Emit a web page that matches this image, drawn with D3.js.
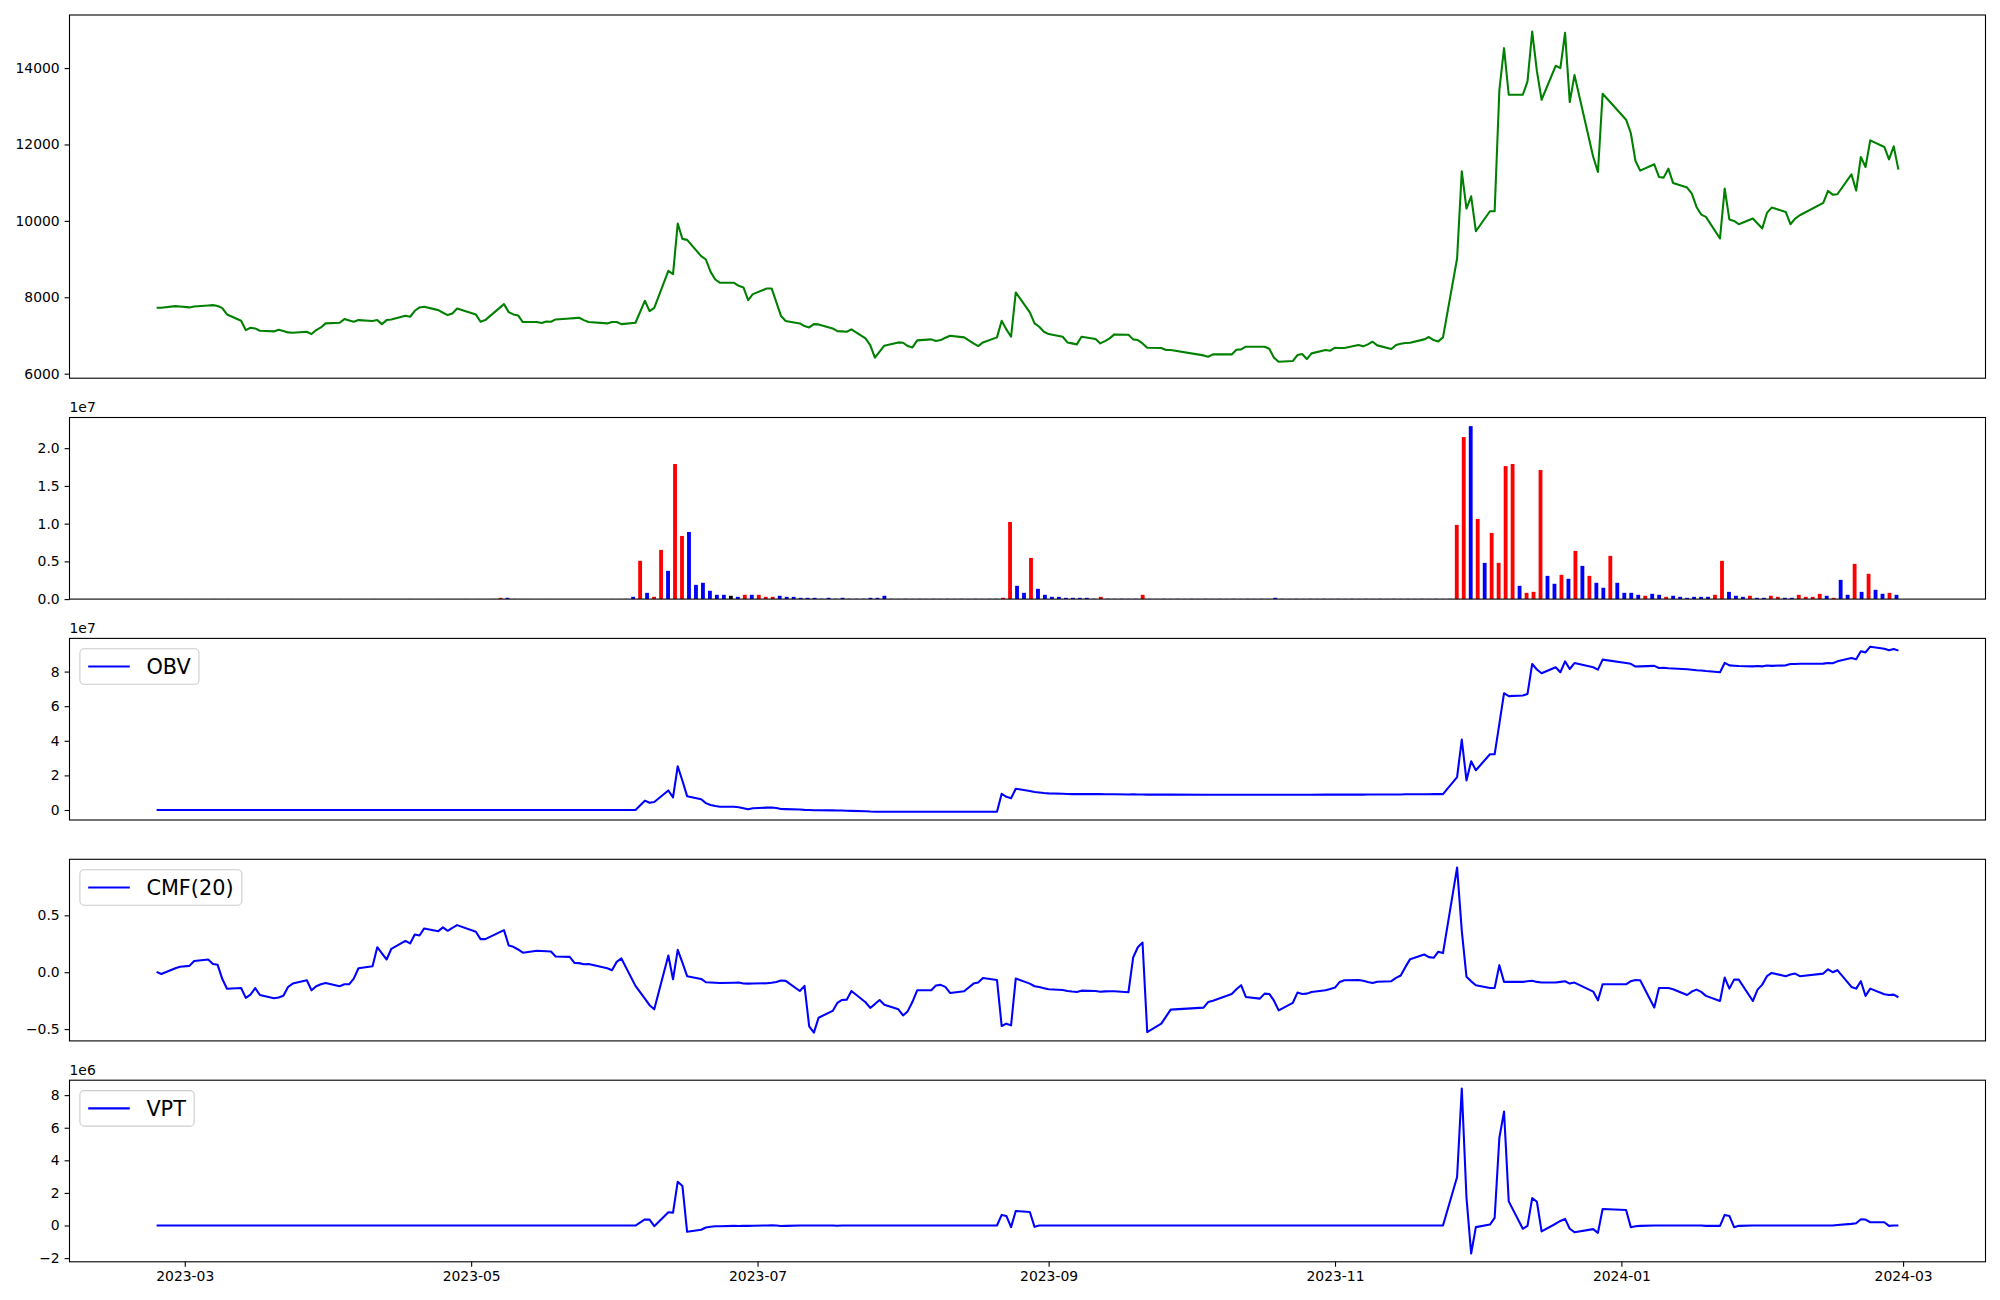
<!DOCTYPE html>
<html><head><meta charset="utf-8">
<script src="https://cdn.jsdelivr.net/npm/d3@7"></script>
<style>
body{margin:0;background:#fff}
svg{display:block}
text{font-family:"DejaVu Sans",sans-serif}
</style></head>
<body><svg id="chart" width="2000" height="1300"></svg>
<script>
// ---------------- DATA ----------------
const tradingDays = [
"2023-02-23","2023-02-24","2023-02-27","2023-02-28",
"2023-03-02","2023-03-03","2023-03-06","2023-03-07","2023-03-08","2023-03-09","2023-03-10","2023-03-13","2023-03-14","2023-03-15","2023-03-16","2023-03-17","2023-03-20","2023-03-21","2023-03-22","2023-03-23","2023-03-24","2023-03-27","2023-03-28","2023-03-29","2023-03-30","2023-03-31",
"2023-04-03","2023-04-04","2023-04-05","2023-04-06","2023-04-07","2023-04-10","2023-04-11","2023-04-12","2023-04-13","2023-04-14","2023-04-17","2023-04-18","2023-04-19","2023-04-20","2023-04-21","2023-04-24","2023-04-25","2023-04-26","2023-04-27","2023-04-28",
"2023-05-02","2023-05-03","2023-05-04","2023-05-08","2023-05-09","2023-05-10","2023-05-11","2023-05-12","2023-05-15","2023-05-16","2023-05-17","2023-05-18","2023-05-19","2023-05-22","2023-05-23","2023-05-24","2023-05-25","2023-05-26","2023-05-30","2023-05-31",
"2023-06-01","2023-06-02","2023-06-05","2023-06-07","2023-06-08","2023-06-09","2023-06-12","2023-06-13","2023-06-14","2023-06-15","2023-06-16","2023-06-19","2023-06-20","2023-06-21","2023-06-22","2023-06-23","2023-06-26","2023-06-27","2023-06-28","2023-06-29","2023-06-30",
"2023-07-03","2023-07-04","2023-07-05","2023-07-06","2023-07-07","2023-07-10","2023-07-11","2023-07-12","2023-07-13","2023-07-14","2023-07-17","2023-07-18","2023-07-19","2023-07-20","2023-07-21","2023-07-24","2023-07-25","2023-07-26","2023-07-27","2023-07-28","2023-07-31",
"2023-08-01","2023-08-02","2023-08-03","2023-08-04","2023-08-07","2023-08-08","2023-08-09","2023-08-10","2023-08-11","2023-08-14","2023-08-16","2023-08-17","2023-08-18","2023-08-21","2023-08-22","2023-08-23","2023-08-24","2023-08-25","2023-08-28","2023-08-29","2023-08-30","2023-08-31",
"2023-09-01","2023-09-04","2023-09-05","2023-09-06","2023-09-07","2023-09-08","2023-09-11","2023-09-12","2023-09-13","2023-09-14","2023-09-15","2023-09-18","2023-09-19","2023-09-20","2023-09-21","2023-09-22","2023-09-25","2023-09-26","2023-09-27",
"2023-10-04","2023-10-05","2023-10-06","2023-10-10","2023-10-11","2023-10-12","2023-10-13","2023-10-16","2023-10-17","2023-10-18","2023-10-19","2023-10-20","2023-10-23","2023-10-24","2023-10-25","2023-10-26","2023-10-27","2023-10-30","2023-10-31",
"2023-11-01","2023-11-02","2023-11-03","2023-11-06","2023-11-07","2023-11-08","2023-11-09","2023-11-10","2023-11-13","2023-11-14","2023-11-15","2023-11-16","2023-11-17","2023-11-20","2023-11-21","2023-11-22","2023-11-23","2023-11-24","2023-11-27","2023-11-28","2023-11-29","2023-11-30",
"2023-12-01","2023-12-04","2023-12-05","2023-12-06","2023-12-07","2023-12-08","2023-12-11","2023-12-12","2023-12-13","2023-12-14","2023-12-15","2023-12-18","2023-12-19","2023-12-20","2023-12-21","2023-12-22","2023-12-26","2023-12-27","2023-12-28",
"2024-01-02","2024-01-03","2024-01-04","2024-01-05","2024-01-08","2024-01-09","2024-01-10","2024-01-11","2024-01-12","2024-01-15","2024-01-16","2024-01-17","2024-01-18","2024-01-19","2024-01-22","2024-01-23","2024-01-24","2024-01-25","2024-01-26","2024-01-29","2024-01-30","2024-01-31",
"2024-02-01","2024-02-02","2024-02-05","2024-02-06","2024-02-07","2024-02-08","2024-02-13","2024-02-14","2024-02-15","2024-02-16","2024-02-19","2024-02-20","2024-02-21","2024-02-22","2024-02-23","2024-02-26","2024-02-27","2024-02-28","2024-02-29"
];

const closePrice = [
7725,7725,7769,7760,7735,7760,7787,7795,7770,7717,
7551,7386,7142,7203,7185,7124,7107,7150,7115,7081,
7072,7098,7037,7142,7211,7316,7333,7429,7394,7359,
7403,7377,7403,7298,7403,7420,7516,7490,7647,7734,
7752,7664,7595,7534,7577,7708,7551,7359,7403,7821,
7612,7551,7525,7351,7351,7325,7368,7359,7420,7446,
7455,7464,7403,7351,7316,7351,7351,7298,7333,7908,
7638,7725,8692,8605,9930,9529,9503,9076,8989,8666,
8466,8379,8379,8300,8257,7926,8083,8231,8231,7874,
7508,7377,7316,7246,7211,7298,7290,7185,7115,7107,
7098,7159,6924,6750,6419,6575,6732,6819,6810,6723,
6688,6871,6898,6854,6880,6941,6993,6950,6793,6723,
6819,6950,7386,7159,6967,8126,7603,7316,7229,7098,
7037,6967,6819,6793,6767,6967,6906,6793,6854,6924,
7028,7019,6898,6880,6793,6680,6671,6619,6619,6479,
6444,6505,6505,6627,6636,6706,6706,6706,6654,6419,
6314,6331,6488,6514,6383,6532,6619,6601,6680,6671,
6671,6750,6715,6767,6837,6741,6645,6750,6784,6802,
6810,6898,6959,6880,6845,6950,9015,11298,10322,10644,
9729,10252,10252,13415,14521,13302,13302,13650,14957,13920,
13171,14060,13999,14922,13110,13816,11672,11280,13328,12648,
12300,11568,11315,11481,11150,11132,11367,10993,10871,10714,
10365,10165,10104,9538,10845,10034,9999,9912,10060,9930,
9799,10208,10348,10235,9912,10060,10148,10470,10784,10688,
10697,11219,10793,11672,11411,12108,11934,11611,11951,11341
];

// volume, in units of 1e7 shares (bars drawn by trading-day index)
const volume1e7 = [
0.001,0.002,0.001,0.001,0.002,0.001,0.001,0.001,0.002,0.001,
0.002,0.001,0.001,0.001,0.002,0.001,0.001,0.001,0.001,0.002,
0.001,0.001,0.002,0.001,0.001,0.001,0.002,0.001,0.001,0.001,
0.001,0.002,0.001,0.001,0.001,0.001,0.002,0.001,0.001,0.001,
0.002,0.001,0.001,0.001,0.002,0.001,0.002,0.001,0.003,0.017,
0.017,0.003,0.002,0.002,0.001,0.001,0.002,0.001,0.001,0.001,
0.001,0.002,0.001,0.001,0.001,0.002,0.002,0.003,0.030,0.507,
0.083,0.030,0.652,0.374,1.790,0.837,0.890,0.189,0.216,0.110,
0.057,0.057,0.044,0.030,0.057,0.057,0.057,0.030,0.030,0.044,
0.030,0.030,0.017,0.017,0.017,0.005,0.017,0.005,0.017,0.005,
0.005,0.005,0.017,0.017,0.044,0.004,0.003,0.004,0.003,0.004,
0.003,0.004,0.003,0.004,0.003,0.004,0.003,0.004,0.003,0.004,
0.004,0.017,1.022,0.176,0.083,0.546,0.136,0.057,0.030,0.030,
0.017,0.017,0.017,0.017,0.005,0.030,0.005,0.004,0.005,0.004,
0.005,0.057,0.004,0.003,0.004,0.003,0.004,0.003,0.004,0.003,
0.004,0.003,0.004,0.003,0.004,0.003,0.004,0.003,0.004,0.003,
0.017,0.004,0.003,0.004,0.003,0.004,0.003,0.004,0.003,0.004,
0.003,0.004,0.003,0.004,0.003,0.004,0.003,0.004,0.003,0.004,
0.003,0.004,0.003,0.004,0.003,0.004,0.983,2.147,2.292,1.062,
0.480,0.877,0.480,1.763,1.790,0.176,0.083,0.096,1.710,0.308,
0.203,0.321,0.269,0.639,0.440,0.308,0.216,0.150,0.573,0.216,
0.083,0.083,0.057,0.044,0.070,0.057,0.030,0.044,0.030,0.017,
0.030,0.030,0.030,0.057,0.507,0.096,0.044,0.030,0.044,0.017,
0.017,0.044,0.030,0.017,0.017,0.057,0.030,0.030,0.070,0.044,
0.017,0.255,0.057,0.467,0.096,0.335,0.123,0.070,0.083,0.057
];
// bar colour codes per day: r = red, b = blue, k = black
const volumeColorCodes = (
"bbbbbbbbbb bbbbbbbbbb bbbbbbbbbb bbbbbbbbbb bbbbbbbbbr " +
"bbbbbbbbbb bbbbbbbbbr brrbrrbbbb bbkbrbrrrb bbbbbbbbbb " +
"bbbbbbbbbb bbbbbbbbbb brrbbrbbbb bbbbbrbbbb brbbbbbbbb " +
"bbbbbbbbbb bbbbbbbbbb bbbbbbbbbb bbbbbbrrbr brrrrbrrrb " +
"brbrbrbbrb bbbrbbrbbb bbbrrbbbrb brrbbrrrrb rbbrbrbbrb").replace(/ /g, "");

// OBV in units of 1e7
const obv1e7 = [
0,0,0,0,0,0,0,0,0,0,
0,0,0,0,0,0,0,0,0,0,
0,0,0,0,0,0,0,0,0,0,
0,0,0,0,0,0,0,0,0,0,
0,0,0,0,0,0,0,0,0,0,
0,0,0,0,0,0,0,0,0,0,
0,0,0,0,0,0,0,0,0.00,0.54,
0.42,0.46,1.13,0.73,2.53,1.69,0.80,0.62,0.40,0.29,
0.23,0.19,0.19,0.16,0.10,0.04,0.10,0.14,0.15,0.12,
0.06,0.05,0.03,0.01,0.00,-0.01,-0.01,-0.02,-0.03,-0.03,
-0.04,-0.05,-0.07,-0.09,-0.10,-0.10,-0.10,-0.10,-0.10,-0.10,
-0.10,-0.10,-0.10,-0.10,-0.10,-0.10,-0.10,-0.10,-0.10,-0.10,
-0.10,-0.10,0.94,0.76,0.68,1.23,1.10,1.04,1.01,0.98,
0.96,0.94,0.93,0.92,0.92,0.93,0.92,0.92,0.91,0.91,
0.91,0.90,0.91,0.90,0.90,0.89,0.89,0.89,0.89,0.88,
0.88,0.88,0.88,0.88,0.88,0.88,0.88,0.88,0.88,0.88,
0.88,0.88,0.88,0.88,0.88,0.88,0.89,0.89,0.89,0.89,
0.89,0.89,0.89,0.90,0.90,0.90,0.90,0.90,0.90,0.91,
0.91,0.91,0.91,0.92,0.92,0.92,1.90,4.07,1.71,2.82,
2.30,3.22,3.22,4.98,6.75,6.58,6.62,6.71,8.44,8.12,
7.90,8.25,7.96,8.59,8.15,8.49,8.25,8.11,8.69,8.50,
8.45,8.29,8.30,8.33,8.21,8.22,8.19,8.18,8.13,8.11,
8.08,8.06,8.03,7.96,8.50,8.36,8.34,8.32,8.30,8.32,
8.30,8.35,8.33,8.36,8.44,8.44,8.45,8.46,8.50,8.48,
8.59,8.79,8.71,9.17,9.11,9.44,9.32,9.23,9.30,9.21
];

const cmf20 = [
0.003,-0.015,0.035,0.048,0.056,0.098,0.112,0.072,0.065,-0.06,
-0.145,-0.138,-0.225,-0.196,-0.14,-0.2,-0.229,-0.222,-0.207,-0.13,
-0.10,-0.07,-0.159,-0.123,-0.105,-0.095,-0.123,-0.106,-0.106,-0.056,
0.035,0.053,0.22,0.165,0.112,0.206,0.276,0.253,0.332,0.323,
0.385,0.361,0.394,0.364,0.39,0.414,0.356,0.291,0.291,0.37,
0.235,0.223,0.20,0.172,0.188,0.186,0.184,0.182,0.138,0.135,
0.082,0.080,0.070,0.073,0.035,0.018,0.091,0.121,-0.12,-0.232,
-0.29,-0.326,0.147,-0.062,0.197,0.085,-0.035,-0.059,-0.088,-0.09,
-0.092,-0.094,-0.092,-0.091,-0.099,-0.100,-0.099,-0.097,-0.093,-0.085,
-0.073,-0.076,-0.165,-0.12,-0.475,-0.531,-0.40,-0.34,-0.27,-0.244,
-0.241,-0.165,-0.264,-0.314,-0.28,-0.244,-0.285,-0.326,-0.38,-0.342,
-0.26,-0.159,-0.159,-0.117,-0.111,-0.129,-0.182,-0.167,-0.10,-0.091,
-0.050,-0.068,-0.473,-0.452,-0.467,-0.056,-0.100,-0.123,-0.13,-0.14,
-0.150,-0.156,-0.165,-0.17,-0.173,-0.162,-0.165,-0.171,-0.168,-0.167,
-0.167,-0.176,0.129,0.22,0.261,-0.526,-0.452,-0.39,-0.329,-0.311,
-0.261,-0.25,-0.191,-0.15,-0.114,-0.217,-0.232,-0.188,-0.191,-0.25,
-0.335,-0.270,-0.179,-0.191,-0.188,-0.173,-0.159,-0.147,-0.135,-0.085,
-0.07,-0.069,-0.075,-0.085,-0.094,-0.083,-0.079,-0.05,-0.029,0.047,
0.115,0.156,0.133,0.127,0.180,0.168,0.92,0.366,-0.04,-0.08,
-0.115,-0.138,-0.138,0.062,-0.085,-0.085,-0.085,-0.08,-0.075,-0.085,
-0.091,-0.091,-0.085,-0.079,-0.100,-0.091,-0.170,-0.247,-0.106,-0.106,
-0.079,-0.068,-0.07,-0.31,-0.138,-0.138,-0.138,-0.15,-0.200,-0.17,
-0.153,-0.173,-0.208,-0.253,-0.047,-0.144,-0.065,-0.065,-0.253,-0.153,
-0.109,-0.035,-0.006,-0.035,-0.02,-0.012,-0.035,-0.012,0.026,0.000,
0.018,-0.129,-0.144,-0.079,-0.208,-0.144,-0.194,-0.200,-0.197,-0.220
];

// VPT in units of 1e6
const vpt1e6 = [
0,0,0,0,0,0,0,0,0,0,
0,0,0,0,0,0,0,0,0,0,
0,0,0,0,0,0,0,0,0,0,
0,0,0,0,0,0,0,0,0,0,
0,0,0,0,0,0,0,0,0,0,
0,0,0,0,0,0,0,0,0,0,
0,0,0,0,0,0,0,0,0.0,0.37,
0.36,-0.04,0.81,0.79,2.69,2.43,-0.385,-0.26,-0.12,-0.08,
-0.05,-0.04,-0.02,-0.03,-0.01,-0.02,-0.01,0.0,0.01,0.0,
-0.03,-0.02,0,0,0,0,0,0,-0.01,0,
0,0,0,0,0,0,0,0,0,0,
0,0,0,0,0,0,0,0,0,0,
0,0.0,0.65,0.59,-0.10,0.89,0.83,-0.08,0.0,0,
0,0,0,0,0,0,0,0,0,0,
0,0,0,0,0,0,0,0,0,0,
0,0,0,0,0,0,0,0,0,0,
0,0,0,0,0,0,0,0,0,0,
0,0,0,0,0,0,0,0,0,0,
0,0,0,0,0,0,2.98,8.41,1.72,-1.72,
-0.10,0.06,0.47,5.37,6.99,1.48,-0.20,-0.02,1.68,1.46,
-0.36,0.11,0.28,0.41,-0.20,-0.41,-0.22,-0.45,1.01,0.95,
-0.10,-0.04,-0.02,0,0,0,0,0,0,0,
0,0,-0.02,-0.02,0.65,0.59,-0.10,-0.02,0,0,
0,0,0,0,0,0,0,0,0,0,
0.03,0.10,0.14,0.385,0.365,0.20,0.20,-0.02,0,0
];

// tick values and labels
const priceTicks = [6000, 8000, 10000, 12000, 14000];
const priceTickLabels = ["6000", "8000", "10000", "12000", "14000"];
const volTicks = [0, 0.5, 1.0, 1.5, 2.0];
const volTickLabels = ["0.0", "0.5", "1.0", "1.5", "2.0"];
const obvTicks = [0, 2, 4, 6, 8];
const obvTickLabels = ["0", "2", "4", "6", "8"];
const cmfTicks = [-0.5, 0, 0.5];
const cmfTickLabels = ["\u22120.5", "0.0", "0.5"];
const vptTicks = [-2, 0, 2, 4, 6, 8];
const vptTickLabels = ["\u22122", "0", "2", "4", "6", "8"];
const xTickDates = ["2023-03-01", "2023-05-01", "2023-07-01", "2023-09-01", "2023-11-01", "2024-01-01", "2024-03-01"];
const xTickLabels = ["2023-03", "2023-05", "2023-07", "2023-09", "2023-11", "2024-01", "2024-03"];

// ---------------- LAYOUT ----------------
const svg = d3.select("#chart");
const L = 69.5, R = 1985.5;
const FS = 13.9;            // 10pt
const TICK = 4.9, PAD = 4.9;
const H1 = 363.2, H = 181.6, GAP = 39.3, TOP = 15;
const panels = [];
let yy = TOP;
[H1, H, H, H, H].forEach(h => { panels.push({ top: yy, bottom: yy + h }); yy += h + GAP; });

const parse = d3.utcParse("%Y-%m-%d");
const D = tradingDays.map(parse);
const N = D.length;
const t0 = +D[0], t1 = +D[N - 1], span = t1 - t0;
const xDate = d3.scaleUtc().domain([new Date(t0 - 0.05 * span), new Date(t1 + 0.05 * span)]).range([L, R]);

const BW = 0.55;
const iSpan = (N - 1) + BW;
const xIdx = d3.scaleLinear().domain([-BW / 2 - 0.05 * iSpan, (N - 1) + BW / 2 + 0.05 * iSpan]).range([L, R]);

function padExtent(arr) {
  const [mn, mx] = d3.extent(arr);
  const p = (mx - mn) * 0.05;
  return [mn - p, mx + p];
}

const defs = svg.append("defs");
panels.forEach((p, k) => {
  defs.append("clipPath").attr("id", "clip" + k)
    .append("rect").attr("x", L).attr("y", p.top).attr("width", R - L).attr("height", p.bottom - p.top);
});

function yAxis(p, y, ticks, labels) {
  const g = svg.append("g").attr("transform", `translate(${L},0)`);
  g.call(d3.axisLeft(y).tickValues(ticks).tickSize(TICK).tickPadding(PAD)
    .tickFormat((d, i) => labels[i]));
  g.select(".domain").remove();
  g.selectAll(".tick line").attr("stroke", "#000").attr("stroke-width", 1.1);
  g.selectAll(".tick text").attr("font-size", FS).attr("fill", "#000")
    .attr("font-family", "DejaVu Sans");
}
function frame(p) {
  svg.append("rect").attr("x", L).attr("y", p.top).attr("width", R - L).attr("height", p.bottom - p.top)
    .attr("fill", "none").attr("stroke", "#000").attr("stroke-width", 1.1);
}
function offsetText(p, txt) {
  svg.append("text").attr("x", L).attr("y", p.top - 5.5).attr("font-size", FS).attr("fill", "#000").text(txt);
}
function linePlot(k, y, vals, color, lw) {
  const line = d3.line().x((d, i) => xDate(D[i])).y(d => y(d));
  svg.append("path").attr("clip-path", `url(#clip${k})`).datum(vals)
    .attr("d", line).attr("fill", "none").attr("stroke", color)
    .attr("stroke-width", lw).attr("stroke-linejoin", "round").attr("stroke-linecap", "butt");
}
function legend(p, label, color, lw) {
  const fs = 20.8;
  const bx = L + 10.4, by = p.top + 10.4;
  const g = svg.append("g");
  const box = g.append("rect");
  const t = g.append("text").attr("font-size", fs).attr("fill", "#000").text(label);
  const tw = t.node().getComputedTextLength();
  const bh = 35.5;
  const bw = 8.3 + 41.6 + 16.6 + tw + 8.3;
  box.attr("x", bx).attr("y", by).attr("width", bw).attr("height", bh).attr("rx", 4.2)
    .attr("fill", "#fff").attr("fill-opacity", 0.8).attr("stroke", "#cccccc").attr("stroke-width", 1.1);
  const cy = by + bh / 2;
  t.attr("x", bx + 8.3 + 41.6 + 16.6).attr("y", cy + fs * 0.36);
  g.append("line").attr("x1", bx + 8.3).attr("x2", bx + 8.3 + 41.6).attr("y1", cy).attr("y2", cy)
    .attr("stroke", color).attr("stroke-width", lw);
}

// ---------- Panel 1: price ----------
{
  const p = panels[0];
  const y = d3.scaleLinear().domain(padExtent(closePrice)).range([p.bottom, p.top]);
  linePlot(0, y, closePrice, "#008000", 2.08);
  frame(p);
  yAxis(p, y, priceTicks, priceTickLabels);
}
// ---------- Panel 2: volume bars ----------
{
  const p = panels[1];
  const vmax = d3.max(volume1e7);
  const y = d3.scaleLinear().domain([0, vmax * 1.05]).range([p.bottom, p.top]);
  const colorMap = { r: "#ff0000", b: "#0000ff", k: "#000000" };
  const bw = xIdx(BW) - xIdx(0);
  svg.append("g").attr("clip-path", "url(#clip1)").selectAll("rect").data(volume1e7).join("rect")
    .attr("x", (d, i) => xIdx(i) - bw / 2).attr("width", bw)
    .attr("y", d => y(d)).attr("height", d => y(0) - y(d))
    .attr("fill", (d, i) => colorMap[volumeColorCodes[i]] || "#0000ff");
  frame(p);
  yAxis(p, y, volTicks, volTickLabels);
  offsetText(p, "1e7");
}
// ---------- Panel 3: OBV ----------
{
  const p = panels[2];
  const y = d3.scaleLinear().domain(padExtent(obv1e7)).range([p.bottom, p.top]);
  linePlot(2, y, obv1e7, "#0000ff", 2.08);
  frame(p);
  yAxis(p, y, obvTicks, obvTickLabels);
  offsetText(p, "1e7");
  legend(p, "OBV", "#0000ff", 2.08);
}
// ---------- Panel 4: CMF ----------
{
  const p = panels[3];
  const y = d3.scaleLinear().domain(padExtent(cmf20)).range([p.bottom, p.top]);
  linePlot(3, y, cmf20, "#0000ff", 2.08);
  frame(p);
  yAxis(p, y, cmfTicks, cmfTickLabels);
  legend(p, "CMF(20)", "#0000ff", 2.08);
}
// ---------- Panel 5: VPT ----------
{
  const p = panels[4];
  const y = d3.scaleLinear().domain(padExtent(vpt1e6)).range([p.bottom, p.top]);
  linePlot(4, y, vpt1e6, "#0000ff", 2.08);
  frame(p);
  yAxis(p, y, vptTicks, vptTickLabels);
  offsetText(p, "1e6");
  legend(p, "VPT", "#0000ff", 2.08);
  const g = svg.append("g").attr("transform", `translate(0,${p.bottom})`);
  g.call(d3.axisBottom(xDate).tickValues(xTickDates.map(parse)).tickSize(TICK).tickPadding(PAD)
    .tickFormat((d, i) => xTickLabels[i]));
  g.select(".domain").remove();
  g.selectAll(".tick line").attr("stroke", "#000").attr("stroke-width", 1.1);
  g.selectAll(".tick text").attr("font-size", FS).attr("fill", "#000").attr("font-family", "DejaVu Sans");
}
</script>
</body></html>
